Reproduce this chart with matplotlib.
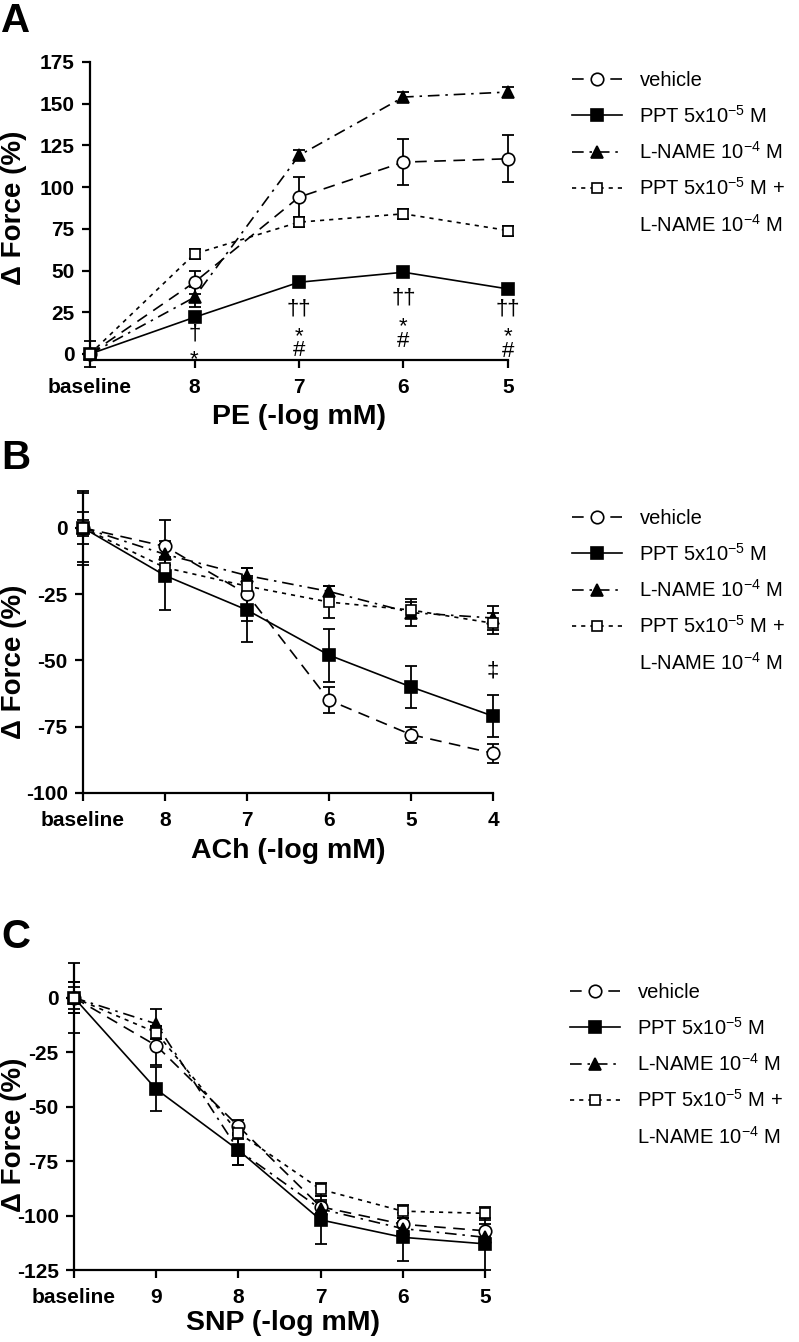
import matplotlib
matplotlib.use('Agg')
import matplotlib.pyplot as plt
from matplotlib.lines import Line2D

plt.rcParams['font.family'] = ['Liberation Sans', 'DejaVu Sans']
plt.rcParams['mathtext.default'] = 'regular'
plt.rcParams['axes.unicode_minus'] = False

# ---- panel A: PE ----
pe_labels = ['baseline', '8', '7', '6', '5']
pe_vehicle = [0, 43, 94, 115, 117]
pe_vehicle_err = [8, 7, 12, 14, 14]
pe_ppt = [0, 22, 43, 49, 39]
pe_ppt_err = [3, 2, 2, 2, 2]
pe_lname = [0, 34, 119, 154, 157]
pe_lname_err = [3, 6, 3, 3, 3]
pe_combo = [0, 60, 79, 84, 74]
pe_combo_err = [3, 3, 3, 3, 3]
# significance marks (x index, baseline y, symbol)
pe_marks = [(1, 8.8, '†'), (1, -6.8, '*'),
            (2, 23.8, '††'), (2, 6.8, '*'), (2, -1.2, '#'),
            (3, 30.4, '††'), (3, 12.8, '*'), (3, 4.2, '#'),
            (4, 23.8, '††'), (4, 6.8, '*'), (4, -1.8, '#')]

# ---- panel B: ACh ----
ach_labels = ['baseline', '8', '7', '6', '5', '4']
ach_vehicle = [0, -7, -25, -65, -78, -85]
ach_vehicle_err = [6, 10, 10, 5, 3, 3.5]
ach_ppt = [0, -18, -31, -48, -60, -71]
ach_ppt_err = [13, 13, 12, 10, 8, 8]
ach_lname = [0, -10, -18, -24, -32, -34]
ach_lname_err = [14, 4, 3, 2, 5, 4.5]
ach_combo = [0, -15, -22, -28, -31, -36]
ach_combo_err = [3, 4, 4, 6, 3, 4]
ach_marks = [(5, -56, '‡')]

# ---- panel C: SNP ----
snp_labels = ['baseline', '9', '8', '7', '6', '5']
snp_vehicle = [0, -22, -59, -96, -104, -107]
snp_vehicle_err = [7, 9, 3, 3, 3, 3]
snp_ppt = [0, -42, -70, -102, -110, -113]
snp_ppt_err = [16, 10, 7, 11, 11, 12]
snp_lname = [0, -12, -70, -97, -106, -110]
snp_lname_err = [7, 7, 7, 3, 3, 3]
snp_combo = [0, -16, -62, -88, -98, -99]
snp_combo_err = [5, 3, 3, 3, 3, 3]

legend_labels = ['vehicle', 'PPT 5x10$^{-5}$ M', 'L-NAME 10$^{-4}$ M',
                 'PPT 5x10$^{-5}$ M +', 'L-NAME 10$^{-4}$ M']

styles = [
    dict(marker='o', mfc='white', ms=9, dashes=(7, 4.5)),
    dict(marker='s', mfc='black', ms=8, dashes=()),
    dict(marker='^', mfc='black', ms=9, dashes=(7, 3.5, 1.5, 3.5)),
    dict(marker='s', mfc='white', ms=7, dashes=(2.5, 3)),
]

W, H = 799, 1342
fig = plt.figure(figsize=(W / 100, H / 100), dpi=100)


def px_axes(left, right, top, bottom):
    return fig.add_axes([left / W, 1 - bottom / H, (right - left) / W, (bottom - top) / H])


def panel(ax, labels, series, errs, ylim, yticks):
    x = list(range(len(labels)))
    handles = []
    for vals, err, st in zip(series, errs, styles):
        ax.errorbar(x, vals, yerr=err, fmt='none', ecolor='black', elinewidth=1.3,
                    capsize=4.5, capthick=1.3, clip_on=False, zorder=2)
        ln, = ax.plot(x, vals, color='black', lw=1.2, marker=st['marker'],
                      mfc=st['mfc'], mec='black', mew=1.2, ms=st['ms'],
                      clip_on=False, zorder=3)
        if st['dashes']:
            ln.set_dashes(st['dashes'])
        handles.append(ln)
    for s in ['top', 'right']:
        ax.spines[s].set_visible(False)
    for s in ['left', 'bottom']:
        ax.spines[s].set_linewidth(1.6)
    ax.set_xlim(0, len(labels) - 1)
    ax.set_xticks(x)
    ax.set_xticklabels(labels)
    ax.set_ylim(*ylim)
    ax.set_yticks(yticks)
    ax.tick_params(direction='out', length=6, width=1.6, labelsize=15, pad=5)
    ax.tick_params(axis='x', pad=7)
    for lbl in ax.get_xticklabels() + ax.get_yticklabels():
        lbl.set_fontweight('bold')
    return handles


def add_legend(ax, handles, left_px, top_px):
    blank = Line2D([], [], linestyle='none')
    leg = ax.legend(handles + [blank], legend_labels, loc='upper left',
                    bbox_to_anchor=(left_px / W, 1 - top_px / H),
                    bbox_transform=fig.transFigure, frameon=False,
                    fontsize=14.5, handlelength=2.5, handletextpad=0.85,
                    labelspacing=0.72, borderpad=0, borderaxespad=0,
                    numpoints=1)
    return leg


# panel A
axA = px_axes(90, 508, 62, 360)
hA = panel(axA, pe_labels, [pe_vehicle, pe_ppt, pe_lname, pe_combo],
           [pe_vehicle_err, pe_ppt_err, pe_lname_err, pe_combo_err],
           (-3.6, 175), range(0, 176, 25))
for xi, yi, s in pe_marks:
    axA.text(xi, yi, s, ha='center', va='baseline', fontsize=16)
add_legend(axA, hA, 572, 71)

# panel B
axB = px_axes(83, 493, 492, 793)
hB = panel(axB, ach_labels, [ach_vehicle, ach_ppt, ach_lname, ach_combo],
           [ach_vehicle_err, ach_ppt_err, ach_lname_err, ach_combo_err],
           (-100, 13.5), range(-100, 1, 25))
for xi, yi, s in ach_marks:
    axB.text(xi, yi, s, ha='center', va='baseline', fontsize=16)
add_legend(axB, hB, 572, 509)

# panel C
axC = px_axes(74, 485, 965, 1270)
hC = panel(axC, snp_labels, [snp_vehicle, snp_ppt, snp_lname, snp_combo],
           [snp_vehicle_err, snp_ppt_err, snp_lname_err, snp_combo_err],
           (-125, 15), range(-125, 1, 25))
add_legend(axC, hC, 570, 983)

# panel letters, axis titles
for letter, ytop in [('A', 2), ('B', 439), ('C', 918)]:
    fig.text(1 / W, 1 - ytop / H, letter, fontsize=29, fontweight='bold', va='top', ha='left')

for ycen in [208, 662, 1135]:
    fig.text(14 / W, 1 - ycen / H, 'Δ Force (%)', rotation=90, fontsize=20,
             fontweight='bold', ha='center', va='center')

for text, xc, yc in [('PE (-log mM)', 299, 417), ('ACh (-log mM)', 288, 851),
                     ('SNP (-log mM)', 283, 1323)]:
    fig.text(xc / W, 1 - yc / H, text, fontsize=20.5, fontweight='bold', ha='center', va='center')

fig.savefig('out.png', dpi=100)
